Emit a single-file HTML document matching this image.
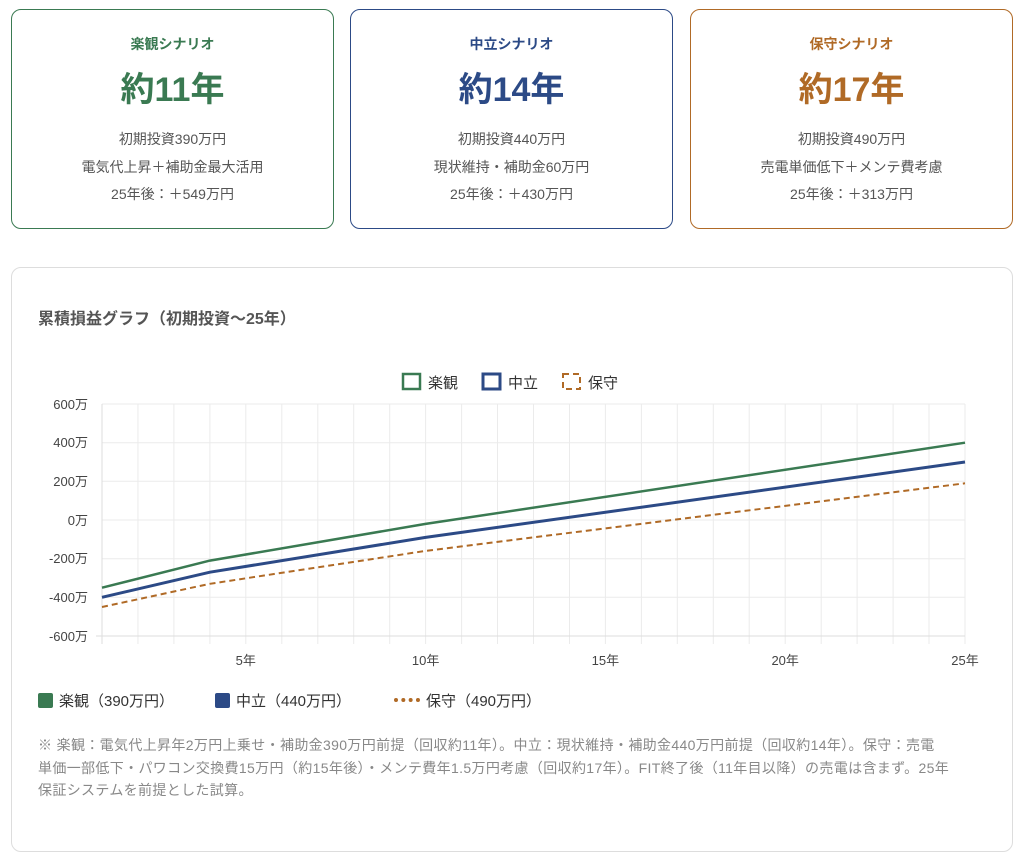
<!DOCTYPE html>
<html><head><meta charset="utf-8"><style>
*{box-sizing:border-box;margin:0;padding:0}
body{width:1024px;height:861px;background:#fff;font-family:"Liberation Sans","Noto Sans CJK JP",sans-serif;position:relative;overflow:hidden;color:#555}
.card{position:absolute;top:9px;height:220px;width:323px;border:1.5px solid;border-radius:10px;text-align:center}
.card .t{margin-top:24px;font-size:14px;font-weight:bold}
.card .b{margin-top:14px;font-size:34px;font-weight:bold;line-height:44px}
.card .d{margin-top:14px;font-size:14px;line-height:27.5px;color:#555}
.main{position:absolute;left:11px;top:267px;width:1002px;height:585px;border:1px solid #ddd;border-radius:10px}
.ttl{position:absolute;left:26px;top:37px;font-size:16px;font-weight:bold;color:#555}
.lg{position:absolute;top:422px;font-size:15px;color:#333}
.sq{display:inline-block;width:15px;height:15px;border-radius:2px;vertical-align:-2px;margin-right:6px}
.note{position:absolute;left:26px;top:466px;width:960px;font-size:14px;line-height:22.5px;color:#888;letter-spacing:0.35px;white-space:nowrap}
</style></head><body>
<div class="card" style="left:11px;border-color:#3a7a52"><div class="t" style="color:#3a7a52">楽観シナリオ</div><div class="b" style="color:#3a7a52">約11年</div><div class="d">初期投資390万円<br>電気代上昇＋補助金最大活用<br>25年後：＋549万円</div></div>
<div class="card" style="left:350px;border-color:#2c4a86"><div class="t" style="color:#2c4a86">中立シナリオ</div><div class="b" style="color:#2c4a86">約14年</div><div class="d">初期投資440万円<br>現状維持・補助金60万円<br>25年後：＋430万円</div></div>
<div class="card" style="left:690px;border-color:#b06a26"><div class="t" style="color:#b06a26">保守シナリオ</div><div class="b" style="color:#b06a26">約17年</div><div class="d">初期投資490万円<br>売電単価低下＋メンテ費考慮<br>25年後：＋313万円</div></div>
<div class="main"><div class="ttl">累積損益グラフ（初期投資〜25年）</div>
<div class="lg" style="left:26px"><span class="sq" style="background:#3a7a52"></span>楽観（390万円）</div>
<div class="lg" style="left:203px"><span class="sq" style="background:#2c4a86"></span>中立（440万円）</div>
<div class="lg" style="left:382px"><span style="display:inline-block;width:26px;border-top:4px dotted #b06a26;vertical-align:4px;margin-right:6px"></span>保守（490万円）</div>
<div class="note">※ 楽観：電気代上昇年2万円上乗せ・補助金390万円前提（回収約11年）。中立：現状維持・補助金440万円前提（回収約14年）。保守：売電<br>単価一部低下・パワコン交換費15万円（約15年後）・メンテ費年1.5万円考慮（回収約17年）。FIT終了後（11年目以降）の売電は含まず。25年<br>保証システムを前提とした試算。</div>
</div>
<svg style="position:absolute;left:0;top:0" width="1024" height="861" font-family="Liberation Sans,Noto Sans CJK JP,sans-serif">
<g stroke="#ebebeb" stroke-width="1">
<line x1="102" x2="965" y1="404" y2="404"/><line x1="102" x2="965" y1="442.7" y2="442.7"/><line x1="102" x2="965" y1="481.3" y2="481.3"/><line x1="102" x2="965" y1="520" y2="520"/><line x1="102" x2="965" y1="558.7" y2="558.7"/><line x1="102" x2="965" y1="597.3" y2="597.3"/>
<line x1="137.96" x2="137.96" y1="404" y2="644"/><line x1="173.9" x2="173.9" y1="404" y2="644"/><line x1="209.9" x2="209.9" y1="404" y2="644"/><line x1="245.8" x2="245.8" y1="404" y2="644"/><line x1="281.8" x2="281.8" y1="404" y2="644"/><line x1="317.8" x2="317.8" y1="404" y2="644"/><line x1="353.7" x2="353.7" y1="404" y2="644"/><line x1="389.7" x2="389.7" y1="404" y2="644"/><line x1="425.6" x2="425.6" y1="404" y2="644"/><line x1="461.6" x2="461.6" y1="404" y2="644"/><line x1="497.5" x2="497.5" y1="404" y2="644"/><line x1="533.5" x2="533.5" y1="404" y2="644"/><line x1="569.5" x2="569.5" y1="404" y2="644"/><line x1="605.4" x2="605.4" y1="404" y2="644"/><line x1="641.4" x2="641.4" y1="404" y2="644"/><line x1="677.3" x2="677.3" y1="404" y2="644"/><line x1="713.3" x2="713.3" y1="404" y2="644"/><line x1="749.2" x2="749.2" y1="404" y2="644"/><line x1="785.2" x2="785.2" y1="404" y2="644"/><line x1="821.2" x2="821.2" y1="404" y2="644"/><line x1="857.1" x2="857.1" y1="404" y2="644"/><line x1="893.1" x2="893.1" y1="404" y2="644"/><line x1="929" x2="929" y1="404" y2="644"/><line x1="965" x2="965" y1="404" y2="644"/>
</g>
<line x1="102" x2="102" y1="404" y2="644" stroke="#ddd"/><line x1="96" x2="965" y1="636" y2="636" stroke="#ddd"/>
<g font-size="13" fill="#444" text-anchor="end">
<text x="88" y="409">600万</text><text x="88" y="447">400万</text><text x="88" y="486">200万</text><text x="88" y="525">0万</text><text x="88" y="563">-200万</text><text x="88" y="602">-400万</text><text x="88" y="641">-600万</text></g>
<g font-size="13" fill="#444" text-anchor="middle">
<text x="245.8" y="665">5年</text><text x="425.6" y="665">10年</text><text x="605.4" y="665">15年</text><text x="785.2" y="665">20年</text><text x="965" y="665">25年</text></g>
<polyline fill="none" stroke="#3a7a52" stroke-width="2.5" points="102,587.7 209.9,560.6 425.6,523.9 965,442.7"/>
<polyline fill="none" stroke="#2c4a86" stroke-width="3" points="102,597.3 209.9,572.2 425.6,537.4 965,462"/>
<polyline fill="none" stroke="#b06a26" stroke-width="2" stroke-dasharray="6,4" points="102,607 209.9,583.8 425.6,550.9 965,483.3"/>
<rect x="403" y="374" width="17" height="15" fill="none" stroke="#3a7a52" stroke-width="2.5"/>
<text x="428" y="388" font-size="15" fill="#333">楽観</text>
<rect x="483" y="374" width="17" height="15" fill="none" stroke="#2c4a86" stroke-width="3"/>
<text x="508" y="388" font-size="15" fill="#333">中立</text>
<rect x="563" y="374" width="17" height="15" fill="none" stroke="#b06a26" stroke-width="2" stroke-dasharray="6,4"/>
<text x="588" y="388" font-size="15" fill="#333">保守</text>
</svg>
</body></html>
